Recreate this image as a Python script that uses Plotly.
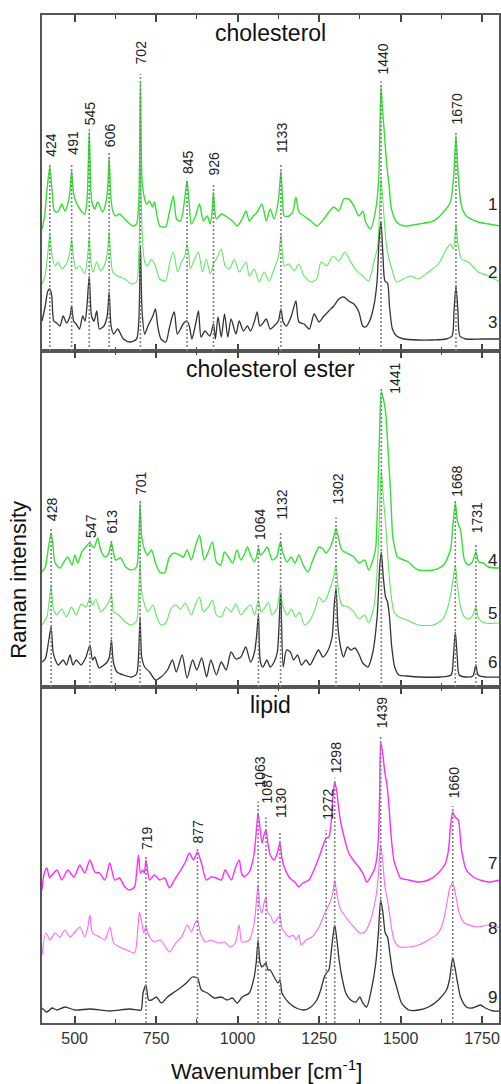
import plotly.graph_objects as go
from plotly.subplots import make_subplots

# ---------------- data (wavenumber, intensity a.u.) ----------------
S1 = [(400,122),(408,135),(415,160),(424,184),(431,160),(438,140),(449,139),(461,147),(470,140),(480,148),(486,160),(491,180),(496,160),(501,152),(516,142),(531,137),(538,150),(545,219),(550,160),(553,149),(562,142),(571,149),(586,139),(597,150),(602,165),(606,194),(611,155),(617,140),(626,135),(638,137),(654,132),(666,128),(678,125),(690,127),(697,150),(702,269),(707,170),(715,152),(721,147),(730,150),(739,144),(745,149),(761,125),(779,124),(791,139),(803,155),(813,132),(825,130),(835,145),(845,170),(852,145),(858,127),(871,135),(883,147),(895,130),(907,135),(916,127),(922,140),(926,159),(930,140),(935,132),(950,137),(968,134),(984,130),(999,125),(1014,132),(1026,140),(1036,130),(1048,135),(1060,139),(1075,147),(1088,130),(1100,142),(1112,132),(1125,150),(1133,180),(1138,150),(1143,135),(1158,135),(1170,140),(1179,154),(1188,139),(1204,135),(1225,130),(1243,125),(1265,132),(1280,139),(1295,144),(1311,140),(1326,152),(1341,152),(1357,145),(1372,135),(1384,140),(1393,129),(1408,122),(1424,142),(1433,172),(1440,265),(1445,240),(1450,219),(1458,185),(1465,165),(1472,142),(1488,129),(1509,125),(1555,127),(1601,130),(1632,139),(1653,149),(1663,175),(1670,215),(1677,175),(1687,145),(1702,135),(1738,129),(1770,127),(1805,125)]
S2 = [(400,67),(409,75),(417,95),(424,117),(431,95),(440,85),(449,89),(461,82),(476,88),(486,100),(491,112),(496,95),(504,82),(516,85),(531,77),(540,95),(545,114),(550,90),(556,79),(568,89),(580,80),(593,87),(601,100),(606,119),(611,95),(617,79),(632,75),(654,72),(675,67),(690,69),(697,95),(702,187),(707,120),(715,89),(724,85),(736,92),(748,85),(761,72),(779,70),(791,87),(803,99),(816,79),(828,89),(838,95),(845,107),(851,95),(855,82),(868,92),(880,99),(892,79),(904,92),(916,77),(926,87),(938,94),(950,102),(962,85),(975,82),(990,92),(1005,79),(1026,89),(1036,75),(1051,82),(1066,69),(1081,79),(1097,70),(1112,82),(1126,95),(1133,117),(1138,95),(1143,85),(1158,87),(1173,80),(1188,87),(1204,75),(1225,69),(1243,72),(1256,89),(1274,85),(1292,95),(1311,90),(1329,99),(1347,89),(1366,80),(1384,75),(1402,70),(1418,89),(1430,105),(1440,172),(1448,140),(1457,105),(1473,82),(1488,69),(1509,72),(1531,75),(1555,72),(1586,79),(1616,87),(1641,102),(1653,107),(1662,102),(1670,127),(1677,105),(1687,92),(1708,89),(1738,79),(1769,75),(1805,69)]
S3 = [(400,30),(410,45),(418,60),(424,62),(430,55),(436,30),(445,28),(455,25),(465,35),(475,28),(486,35),(491,45),(497,30),(505,27),(515,22),(525,35),(532,30),(538,45),(545,75),(552,35),(560,30),(568,40),(576,22),(590,25),(600,35),(606,59),(612,25),(620,17),(632,22),(650,12),(670,9),(690,12),(697,30),(702,104),(707,40),(715,17),(725,25),(740,35),(748,42),(755,25),(765,12),(780,9),(790,22),(800,35),(806,39),(815,17),(825,22),(835,28),(845,30),(852,25),(860,12),(870,25),(880,40),(888,14),(900,20),(915,15),(926,27),(932,12),(940,34),(950,14),(960,37),(970,14),(980,32),(995,17),(1005,30),(1018,20),(1030,25),(1040,20),(1052,30),(1060,39),(1068,25),(1076,27),(1088,32),(1100,22),(1112,25),(1125,30),(1133,42),(1140,29),(1150,25),(1165,35),(1179,50),(1188,29),(1204,27),(1220,22),(1235,37),(1250,29),(1265,35),(1280,40),(1295,45),(1311,52),(1326,54),(1341,50),(1357,47),(1372,39),(1384,25),(1393,24),(1405,30),(1418,45),(1428,70),(1434,110),(1440,129),(1446,95),(1452,70),(1460,68),(1466,45),(1475,22),(1488,15),(1510,12),(1550,11),(1600,11),(1640,12),(1658,15),(1664,40),(1670,65),(1676,40),(1682,15),(1700,12),(1750,12),(1805,12)]

S4 = [(400,115),(410,120),(420,140),(428,154),(434,140),(440,124),(455,119),(467,125),(479,130),(492,122),(501,132),(510,124),(522,135),(534,140),(547,144),(559,139),(571,149),(580,137),(593,130),(602,132),(608,138),(613,144),(619,135),(626,127),(641,129),(657,120),(675,117),(690,120),(696,140),(701,184),(706,150),(715,137),(724,132),(736,137),(748,124),(761,115),(776,114),(791,130),(806,134),(822,132),(834,130),(845,137),(858,127),(870,140),(883,152),(890,140),(898,127),(910,135),(923,145),(935,125),(948,122),(960,135),(972,130),(985,124),(998,137),(1010,127),(1020,132),(1030,140),(1042,130),(1052,125),(1058,130),(1064,139),(1070,132),(1078,134),(1091,140),(1100,132),(1106,127),(1120,130),(1127,140),(1132,145),(1138,135),(1152,125),(1164,130),(1176,124),(1188,132),(1201,122),(1216,115),(1231,127),(1250,140),(1262,138),(1271,134),(1285,140),(1295,150),(1302,159),(1310,148),(1320,137),(1335,134),(1357,130),(1372,124),(1390,127),(1402,117),(1418,130),(1424,140),(1430,190),(1436,260),(1441,295),(1446,290),(1454,275),(1462,235),(1470,190),(1476,150),(1482,140),(1490,130),(1509,127),(1525,125),(1540,120),(1555,117),(1601,117),(1632,122),(1653,137),(1660,160),(1668,184),(1675,165),(1684,157),(1696,127),(1708,122),(1720,125),(1731,135),(1740,125),(1754,124),(1769,120),(1805,119)]
S5 = [(400,62),(415,70),(428,102),(434,80),(445,72),(460,78),(475,70),(490,80),(505,72),(520,83),(535,80),(547,89),(555,82),(565,88),(580,75),(595,80),(605,85),(613,92),(620,75),(635,72),(655,65),(675,62),(690,66),(696,90),(701,127),(706,95),(715,82),(725,75),(740,82),(752,70),(765,62),(780,64),(795,78),(810,82),(825,78),(840,84),(858,72),(870,82),(883,90),(895,75),(910,80),(923,87),(935,72),(950,70),(965,80),(980,75),(995,83),(1010,72),(1025,78),(1040,82),(1052,72),(1064,87),(1072,75),(1085,80),(1095,85),(1105,72),(1120,78),(1127,90),(1132,102),(1138,82),(1152,72),(1165,78),(1178,70),(1190,75),(1205,62),(1218,65),(1235,75),(1250,90),(1262,85),(1272,88),(1285,100),(1295,110),(1302,122),(1310,95),(1320,82),(1340,80),(1357,75),(1372,68),(1390,72),(1402,64),(1418,80),(1427,110),(1434,160),(1441,217),(1447,190),(1455,160),(1462,125),(1470,95),(1480,75),(1495,70),(1520,67),(1555,62),(1600,62),(1630,68),(1645,80),(1655,95),(1662,110),(1668,122),(1675,100),(1684,80),(1696,70),(1710,68),(1722,72),(1731,80),(1740,68),(1760,64),(1805,64)]
S6 = [(400,25),(410,28),(420,45),(428,60),(434,35),(440,28),(450,22),(465,27),(475,22),(486,32),(495,22),(505,27),(520,22),(535,30),(547,42),(555,27),(562,30),(575,19),(590,22),(600,25),(607,30),(613,47),(619,25),(630,15),(650,12),(675,10),(690,13),(696,30),(701,70),(706,30),(715,20),(730,15),(748,7),(765,10),(785,17),(800,27),(812,15),(830,32),(845,9),(862,27),(875,17),(890,29),(905,10),(918,27),(935,12),(950,25),(965,17),(980,35),(995,28),(1010,30),(1025,40),(1040,25),(1052,35),(1058,50),(1064,72),(1070,25),(1078,20),(1090,27),(1100,20),(1112,25),(1122,35),(1132,94),(1140,20),(1150,37),(1162,35),(1172,27),(1184,32),(1196,22),(1210,27),(1222,22),(1236,30),(1248,37),(1262,30),(1275,35),(1290,50),(1296,80),(1302,99),(1308,60),(1316,40),(1325,30),(1337,40),(1348,37),(1360,39),(1372,33),(1384,24),(1400,20),(1415,35),(1428,70),(1436,120),(1441,135),(1447,110),(1454,90),(1460,85),(1466,70),(1473,40),(1482,20),(1495,12),(1520,11),(1560,10),(1620,10),(1655,12),(1662,30),(1668,55),(1674,30),(1680,12),(1700,10),(1722,11),(1731,22),(1738,12),(1760,10),(1805,10)]

S7 = [(400,133),(407,150),(415,155),(423,145),(431,148),(446,153),(461,143),(479,153),(498,146),(516,158),(531,150),(547,163),(562,151),(577,150),(593,143),(608,160),(623,143),(638,145),(654,136),(669,133),(684,136),(690,150),(696,168),(702,150),(709,153),(714,150),(719,163),(725,150),(730,143),(745,148),(761,143),(776,145),(791,135),(806,143),(822,151),(840,161),(852,170),(865,163),(877,171),(889,160),(904,143),(919,146),(935,145),(950,143),(962,153),(981,143),(993,155),(1005,163),(1012,150),(1020,146),(1036,151),(1045,160),(1051,170),(1057,190),(1063,210),(1069,195),(1075,180),(1081,188),(1087,193),(1093,180),(1100,168),(1112,163),(1122,170),(1130,180),(1136,165),(1143,156),(1158,146),(1167,143),(1176,141),(1188,136),(1200,140),(1219,143),(1234,153),(1250,166),(1265,180),(1272,185),(1280,186),(1287,200),(1292,225),(1298,241),(1304,232),(1312,210),(1320,195),(1330,182),(1341,170),(1357,162),(1372,156),(1387,148),(1396,141),(1408,146),(1421,155),(1427,165),(1432,185),(1436,230),(1439,281),(1445,270),(1452,250),(1457,241),(1463,223),(1468,200),(1473,180),(1480,162),(1487,155),(1500,145),(1525,143),(1555,141),(1586,143),(1616,150),(1638,160),(1647,173),(1653,196),(1660,211),(1667,206),(1677,203),(1687,173),(1702,153),(1729,145),(1769,141),(1805,143)]
S8 = [(400,68),(412,90),(425,83),(440,90),(455,86),(470,93),(486,86),(501,91),(516,96),(531,86),(540,95),(547,108),(555,90),(577,86),(593,83),(608,96),(620,80),(638,76),(660,73),(684,70),(693,90),(699,111),(705,103),(712,90),(718,96),(730,86),(745,81),(763,83),(791,71),(810,80),(828,86),(846,98),(858,91),(870,100),(877,103),(886,90),(901,81),(919,83),(938,80),(960,81),(978,76),(993,80),(1005,98),(1013,81),(1036,83),(1051,100),(1063,138),(1069,115),(1075,110),(1081,120),(1087,126),(1093,110),(1100,108),(1112,100),(1124,105),(1130,108),(1136,95),(1146,90),(1158,86),(1170,88),(1180,83),(1188,88),(1195,78),(1210,83),(1228,86),(1250,96),(1265,108),(1272,113),(1283,120),(1292,130),(1298,143),(1305,128),(1314,115),(1323,110),(1338,103),(1357,96),(1375,90),(1390,91),(1405,100),(1421,120),(1430,140),(1439,178),(1446,160),(1452,136),(1460,123),(1470,100),(1480,83),(1497,76),(1525,76),(1555,78),(1586,83),(1616,90),(1632,103),(1644,123),(1651,135),(1660,140),(1668,130),(1680,110),(1696,100),(1738,96),(1769,98),(1805,95)]
S9 = [(400,15),(415,11),(431,15),(446,13),(470,16),(501,13),(547,14),(608,12),(669,14),(693,13),(704,13),(710,30),(719,38),(727,23),(736,23),(751,26),(766,20),(785,26),(806,31),(828,36),(846,41),(861,46),(877,45),(889,33),(907,30),(928,25),(950,26),(968,23),(984,25),(999,20),(1014,26),(1036,30),(1051,46),(1057,60),(1063,83),(1069,60),(1075,56),(1081,58),(1087,60),(1093,53),(1100,53),(1112,46),(1124,40),(1130,43),(1136,30),(1143,26),(1158,20),(1180,15),(1204,13),(1225,16),(1243,23),(1255,33),(1265,45),(1272,50),(1280,53),(1287,70),(1292,85),(1298,98),(1304,85),(1312,62),(1320,46),(1332,30),(1347,23),(1363,21),(1375,26),(1384,20),(1396,16),(1412,36),(1424,60),(1432,90),(1439,123),(1446,110),(1453,90),(1460,86),(1467,70),(1476,50),(1488,36),(1503,20),(1525,13),(1555,13),(1586,16),(1616,23),(1641,33),(1650,43),(1660,65),(1667,55),(1675,40),(1684,26),(1702,16),(1720,15),(1745,18),(1760,15),(1785,12),(1805,12)]

PANEL_TITLES = ["cholesterol", "cholesterol ester", "lipid"]
PEAKS = [
    [424, 491, 545, 606, 702, 845, 926, 1133, 1440, 1670],
    [428, 547, 613, 701, 1064, 1132, 1302, 1441, 1668, 1731],
    [719, 877, 1063, 1087, 1130, 1272, 1298, 1439, 1660],
]
SPECTRUM_NAMES = ["1", "2", "3", "4", "5", "6", "7", "8", "9"]
TICKS = [500, 750, 1000, 1250, 1500, 1750]
MINOR_TICKS = [625, 875, 1125, 1375, 1625]

# ---------------- styling / layout ----------------
SPECTRA = [[S1, S2, S3], [S4, S5, S6], [S7, S8, S9]]
COLORS = [["#33e033", "#5ee85e", "#333333"],
          ["#33e033", "#5ee85e", "#333333"],
          ["#ff2cff", "#ff66ff", "#333333"]]
WIDTHS = [1.4, 1.1, 1.3]
LABEL_GAP = {424: 8, 491: 14, 545: 5, 606: 8, 702: 16, 845: 5, 926: 15, 1133: 16,
             1440: 9, 1670: 10, 428: 10, 547: 3, 613: 8, 701: 6, 1064: 6, 1132: 20,
             1302: 21, 1668: 4, 1731: 17, 719: 8, 877: 7, 1063: 23, 1087: 25,
             1130: 23, 1272: 16, 1298: 7, 1439: 12, 1660: 12}
NAME_Y = [147, 79, 29, 127, 74, 25, 160, 95, 26]
YMAX = 336
FONT = "Liberation Sans, Arial, sans-serif"

fig = make_subplots(rows=3, cols=1, shared_xaxes=True, vertical_spacing=0)

for p in range(3):
    row = p + 1
    yref = "y" if p == 0 else f"y{row}"
    for k, spec in enumerate(SPECTRA[p]):
        xs = [a for a, b in spec]
        ys = [b for a, b in spec]
        fig.add_trace(go.Scatter(x=xs, y=ys, mode="lines",
                                 line=dict(color=COLORS[p][k], width=WIDTHS[k],
                                           shape="spline", smoothing=0.7),
                                 showlegend=False, hoverinfo="skip"), row=row, col=1)
        fig.add_annotation(x=1782, y=NAME_Y[3 * p + k], xref="x", yref=yref,
                           text=SPECTRUM_NAMES[3 * p + k], showarrow=False,
                           font=dict(family=FONT, size=17, color="#222"),
                           xanchor="center", yanchor="middle")
    # peak markers
    for wn in PEAKS[p]:
        top = max(b for spec in SPECTRA[p] for a, b in spec if abs(a - wn) <= 3)
        gap = LABEL_GAP.get(wn, 7)
        line_top = top + gap * 0.5
        fig.add_shape(type="line", x0=wn, x1=wn, y0=0, y1=line_top, xref="x", yref=yref,
                      line=dict(color="#808080", width=1.6, dash="2px,2px"), layer="above")
        if wn == 1441:
            fig.add_annotation(x=wn, y=1, xref="x", yref=f"{yref} domain", text=str(wn),
                               showarrow=False, textangle=-90, xshift=13, yshift=-10,
                               font=dict(family=FONT, size=14, color="#222"),
                               xanchor="center", yanchor="top")
        else:
            fig.add_annotation(x=wn, y=top + gap, xref="x", yref=yref, text=str(wn),
                               showarrow=False, textangle=-90, xshift=1,
                               font=dict(family=FONT, size=14, color="#222"),
                               xanchor="center", yanchor="bottom")
    fig.add_annotation(x=0.5, y=1, xref="paper", yref=f"{yref} domain",
                       text=PANEL_TITLES[p], showarrow=False, yshift=-18,
                       font=dict(family=FONT, size=23, color="#111"),
                       xanchor="center", yanchor="middle")

    fig.update_yaxes(range=[0, YMAX], showline=True, mirror=True, linecolor="#555",
                     linewidth=2, showticklabels=False, ticks="", showgrid=False,
                     zeroline=False, row=row, col=1)
    fig.update_xaxes(range=[400, 1802], tickvals=TICKS, ticks="inside", ticklen=7,
                     tickwidth=1.5, tickcolor="#444", showline=True, mirror="allticks",
                     linecolor="#555", linewidth=2, showgrid=False, zeroline=False,
                     minor=dict(tickvals=MINOR_TICKS, ticks="inside", ticklen=4,
                                tickwidth=1.2, tickcolor="#444"),
                     tickfont=dict(family=FONT, size=16, color="#333"),
                     row=row, col=1)

fig.add_annotation(x=-0.052, y=0.44, xref="paper", yref="paper", text="Raman intensity",
                   textangle=-90, showarrow=False, xanchor="center", yanchor="middle",
                   font=dict(family=FONT, size=22, color="#111"))
fig.add_annotation(x=0.492, y=-0.0466, xref="paper", yref="paper",
                   text="Wavenumber [cm<sup>-1</sup>]", showarrow=False,
                   xanchor="center", yanchor="middle",
                   font=dict(family=FONT, size=22, color="#111"))

fig.update_layout(width=501, height=1084, margin=dict(l=42, r=0, t=15, b=61),
                  paper_bgcolor="white", plot_bgcolor="white", showlegend=False)

fig.write_html("out.html", config={"displayModeBar": False},
               post_script="document.body.style.margin='0';document.body.style.overflow='hidden';")
